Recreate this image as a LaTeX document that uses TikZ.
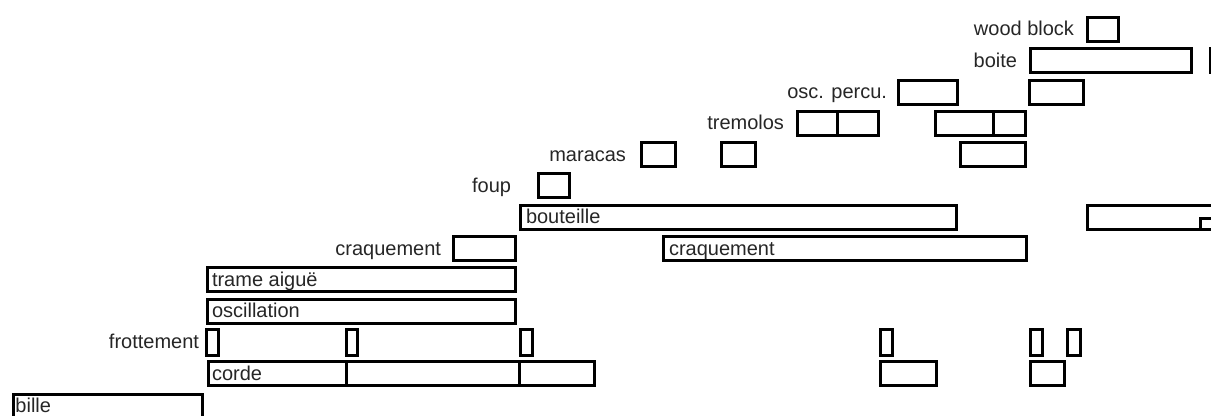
\documentclass[tikz,border=0pt]{standalone}
\usepackage{fontspec}
\setmainfont{Liberation Sans}
\tikzset{
  bx/.style={draw=black, line width=1.5pt, rectangle, inner sep=0pt, outer sep=0pt},
  lbl/.style={inner sep=0pt, outer sep=0pt, font=\fontsize{10pt}{12pt}\selectfont, text=black!85}
}
% \bx[path height px]{name}{x1 outer}{x2 outer}{y centre}
\newcommand{\bx}[5][24]{\node[bx,minimum width={(#4-#3-3)*0.5pt},minimum height={(#1)*0.5pt}] (#2) at ({(#3+#4)/2},#5) {};}
\begin{document}
\begin{tikzpicture}[x=0.5pt,y=-0.5pt]
\useasboundingbox (0,0) rectangle (1211,416);
% row 0 : wood block
\bx{wb}{1086}{1120}{29.5}
\node[lbl,anchor=base east] (lwb) at (1074,36) {wood block};
% row 1 : boite
\bx{bo1}{1029}{1193}{60.8}
\bx{bo2}{1208.5}{1260}{60.8}
\node[lbl,anchor=base east] (lbo) at (1017,67.3) {boite};
% row 2 : osc. percu.
\bx{op1}{897}{959}{92.1}
\bx{op2}{1028}{1085}{92.1}
\node[lbl,anchor=base east] (lop) at (887,98.6) {osc. percu.};
% row 3 : tremolos
\bx{tr1}{796}{839}{123.4}
\bx{tr2}{836}{880}{123.4}
\bx{tr3}{934}{995}{123.4}
\bx{tr4}{992}{1027}{123.4}
\node[lbl,anchor=base east] (ltr) at (784,129.9) {tremolos};
% row 4 : maracas
\bx{ma1}{640}{677}{154.7}
\bx{ma2}{720}{757}{154.7}
\bx{ma3}{959}{1027}{154.7}
\node[lbl,anchor=base east] (lma) at (626,161.2) {maracas};
% row 5 : foup
\bx{fo}{537}{571}{186}
\node[lbl,anchor=base east] (lfo) at (511,192.5) {foup};
% row 6 : bouteille
\bx{bt1}{519}{958}{217.3}
\bx{bt2}{1086}{1260}{217.3}
\bx[11]{bt3}{1199}{1260}{224}
\node[lbl,anchor=base west] (tbt) at (526,223.8) {bouteille};
% row 7 : craquement
\bx{cq1}{452}{517}{248.6}
\bx{cq2}{662}{1028}{248.6}
\node[lbl,anchor=base east] (lcq) at (441,255.1) {craquement};
\node[lbl,anchor=base west] (tcq) at (669,255.1) {craquement};
% row 8 : trame aiguë
\bx{ta}{206}{517}{279.9}
\node[lbl,anchor=base west] (tta) at (212,286.4) {trame aiguë};
% row 9 : oscillation
\bx{os}{206}{517}{311.2}
\node[lbl,anchor=base west] (tos) at (212,317.7) {oscillation};
% row 10 : frottement
\bx[26]{fr1}{205}{220}{342.5}
\bx[26]{fr2}{345}{359}{342.5}
\bx[26]{fr3}{519}{534}{342.5}
\bx[26]{fr4}{879}{894}{342.5}
\bx[26]{fr5}{1029}{1044}{342.5}
\bx[26]{fr6}{1066}{1082}{342.5}
\node[lbl,anchor=base east] (lfr) at (199,349) {frottement};
% row 11 : corde
\bx{co1}{207}{347.5}{373.8}
\bx{co2}{344.5}{520.5}{373.8}
\bx{co3}{517.5}{596}{373.8}
\bx{co4}{879}{938}{373.8}
\bx{co5}{1029}{1066}{373.8}
\node[lbl,anchor=base west] (tco) at (212,380.3) {corde};
% row 12 : bille
\bx{bi}{12}{204}{407}
\node[lbl,anchor=base west] (tbi) at (15.5,412.3) {bille};
\end{tikzpicture}
\end{document}
